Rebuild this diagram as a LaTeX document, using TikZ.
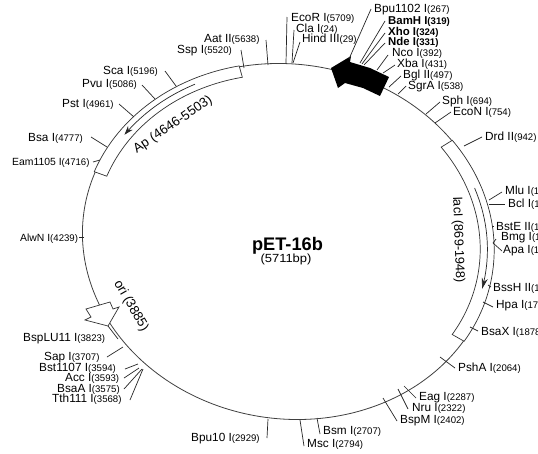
\documentclass[tikz,border=0pt]{standalone}
\usepackage{fontspec}
\setmainfont{Liberation Sans}
\usetikzlibrary{arrows.meta}
\newcommand\sznum{\fontsize{9.6}{10}\selectfont}
\newcommand\rsite[9]{%
  \node[sitelab] (#1) at (#4,#5) {#2\sznum(#3)};
  \coordinate (#1r) at (#6,#7);
  \coordinate (#1e) at (#8,#9);
  \draw[sitetick] (#1r) -- (#1e);
}
\tikzset{
  sitelab/.style={anchor=west,inner sep=0pt,text height=8pt,text depth=0pt,font=\fontsize{11.8}{12}\selectfont},
  boldlab/.style={sitelab,font=\fontsize{11.4}{12}\selectfont\bfseries},
  sitetick/.style={draw=black!85,line width=0.7pt},
  ringline/.style={draw=black!75,line width=0.8pt},
  featline/.style={draw=black!80,line width=0.7pt,fill=white},
  featlab/.style={inner sep=0pt,font=\fontsize{13.2}{14}\selectfont}
}
\begin{document}
\begin{tikzpicture}[x=1pt,y=-1pt]
\useasboundingbox (0,0) rectangle (538,453);
\clip (0,0) rectangle (538,453);
\fill[white] (0,0) rectangle (538,453);
\begin{scope}[shift={(288,241.5)},x={(205.5pt,-3pt)},y={(-6pt,178pt)}]
  \draw[ringline] plot[domain=0:360,samples=240] (\x:1) -- cycle;
  % Ap feature
  \draw[featline] plot[domain=102:158,samples=50] (\x:1.005) -- plot[domain=158:102,samples=50] (\x:0.94) -- cycle;
  \draw[draw=black!85,line width=0.7pt,-{Stealth[length=9pt,width=6pt]}] plot[domain=116:143,samples=30] (\x:0.975);
  % lacI feature
  \draw[featline] plot[domain=35.5:-33,samples=60] (\x:1.003) -- plot[domain=-33:35.5,samples=60] (\x:0.935) -- cycle;
  \draw[draw=black!85,line width=0.7pt,-{Stealth[length=11pt,width=6pt]}] plot[domain=19:-15,samples=30] (\x:0.97);
\end{scope}
% big black arrow
\fill[black] (331,68) -- (351,56) -- (350,62) -- (370,68) -- (389,77) -- (380,96) -- (363,88) -- (345,83) -- (338,88) -- cycle;
% ori arrow
\draw[featline] (86,309) -- (110,302) -- (113,309) -- (119,307) -- (108,326) -- (85,320) -- (91,317) -- cycle;
% centre
\node[inner sep=0pt,font=\fontsize{18.2}{18}\selectfont\bfseries] (title) at (287.5,246) {pET-16b};
\node[inner sep=0pt,xscale=1.1,font=\fontsize{11.8}{12}\selectfont] (size) at (286,259) {(5711bp)};
\node[featlab,rotate=34] (ap) at (173,125) {Ap (4646-5503)};
\node[featlab,rotate=-88,font=\fontsize{12.8}{14}\selectfont] (laci) at (458,240) {lacI (869-1948)};
\node[featlab,rotate=-60] (ori) at (131,306) {ori (3885)};
% top
\rsite{ecor}{EcoR I}{5709}{291}{17}{286}{63}{287}{17}
\rsite{cla}{Cla I}{24}{296}{28}{292}{63}{294}{30}
\rsite{hind}{Hind III}{29}{302}{38}{293}{63}{300}{42}
\rsite{bpu}{Bpu1102 I}{267}{374}{8}{349}{59}{371}{9}
\node[boldlab] (bam) at (388,20) {BamH I\sznum(319)};
\coordinate (bamr) at (360,63); \coordinate (bame) at (385,21);
\draw[sitetick] (bamr) -- (bame);
\node[boldlab] (xho) at (388,31) {Xho I\sznum(324)};
\coordinate (xhor) at (362,64); \coordinate (xhoe) at (385,33);
\draw[sitetick] (xhor) -- (xhoe);
\node[boldlab] (nde) at (388,41) {Nde I\sznum(331)};
\coordinate (nder) at (364,65); \coordinate (ndee) at (385,43);
\draw[sitetick] (nder) -- (ndee);
\rsite{nco}{Nco I}{392}{392}{52}{377}{70}{388}{55}
\rsite{xba}{Xba I}{431}{397}{63}{383}{73}{395}{65}
\rsite{bgl}{Bgl II}{497}{403}{74}{389}{87}{401}{76}
\rsite{sgra}{SgrA I}{538}{408}{85}{398}{94}{406}{86}
\rsite{sph}{Sph I}{694}{442}{100}{426}{114}{440}{102}
\rsite{econ}{EcoN I}{754}{453}{111}{435}{123}{451}{112}
\rsite{drd}{Drd II}{942}{485}{136}{464}{146}{482}{137}
% right
\rsite{mlu}{Mlu I}{1}{505}{190}{489}{200}{502}{192}
\rsite{bcl}{Bcl I}{1}{508}{203}{489}{204}{505}{204}
\rsite{bste}{BstE II}{1}{496}{226}{492}{226}{494}{226}
\rsite{bmg}{Bmg I}{1}{501}{236}{493}{243}{496}{239}
\rsite{apa}{Apa I}{1}{503}{249}{493}{243}{502}{251}
\rsite{bssh}{BssH II}{1}{493}{287}{488}{285}{491}{287}
\rsite{hpa}{Hpa I}{17}{496}{304}{483}{302}{493}{307}
\rsite{bsax}{BsaX I}{1878}{481}{331}{470}{327}{478}{331}
\rsite{psha}{PshA I}{2064}{458}{367}{440}{357}{455}{368}
% bottom
\rsite{eag}{Eag I}{2287}{419}{396}{404}{386}{416}{398}
\rsite{nru}{Nru I}{2322}{412}{407}{398}{389}{408}{409}
\rsite{bspm}{BspM I}{2402}{400}{419}{383}{398}{397}{421}
\rsite{bsm}{Bsm I}{2707}{323}{430}{317}{418}{320}{434}
\rsite{msc}{Msc I}{2794}{307}{443}{300}{420}{304}{446}
\rsite{bputen}{Bpu10 I}{2929}{191}{437}{268}{419}{267}{438}
% lower left
\rsite{tth}{Tth111 I}{3568}{52}{398}{143}{369}{130}{400}
\rsite{bsaa}{BsaA I}{3575}{57}{388}{142}{369}{124}{389}
\rsite{acc}{Acc I}{3593}{65}{377}{139}{368}{124}{378}
\rsite{bst}{Bst1107 I}{3594}{39}{367}{138}{364}{125}{369}
\rsite{sap}{Sap I}{3707}{44}{356}{123}{347}{107}{357}
\rsite{bsplu}{BspLU11 I}{3823}{23}{337}{108}{326}{118}{339}
% upper left
\node[sitelab,font=\fontsize{10.4}{11}\selectfont] (alwn) at (20,237) {AlwN I\sznum(4239)};
\coordinate (alwnr) at (84,237); \coordinate (alwne) at (79,237);
\draw[sitetick] (alwnr) -- (alwne);
\node[sitelab,font=\fontsize{10.4}{11}\selectfont] (eam) at (12,161) {Eam1105 I\sznum(4716)};
\coordinate (eamr) at (100,160); \coordinate (eame) at (93,162);
\draw[sitetick] (eamr) -- (eame);
\rsite{bsa}{Bsa I}{4777}{28}{137}{107}{147}{91}{137}
\rsite{pst}{Pst I}{4961}{62}{103}{134}{117}{119}{104}
\rsite{pvu}{Pvu I}{5086}{82}{83}{155}{99}{142}{85}
\rsite{sca}{Sca I}{5196}{103}{70}{176}{86}{165}{71}
\rsite{ssp}{Ssp I}{5520}{177}{49}{244}{68}{241}{50}
\rsite{aat}{Aat II}{5638}{204}{38}{268}{65}{266}{40}
\end{tikzpicture}
\end{document}
